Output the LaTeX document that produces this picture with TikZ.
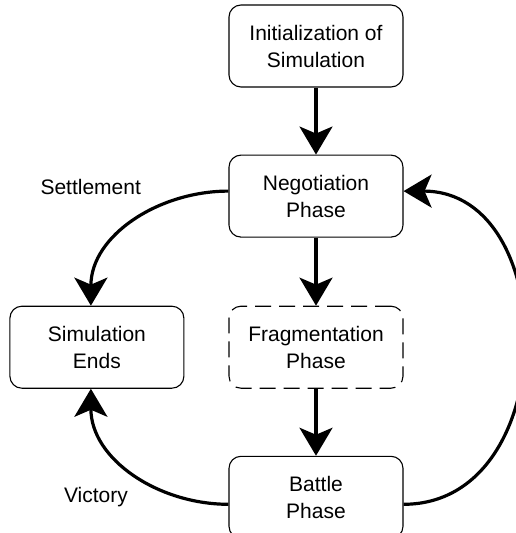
\documentclass[tikz,border=0pt]{standalone}
\usepackage{fontspec}
\setmainfont{Liberation Sans}
\usetikzlibrary{positioning,arrows.meta}

\begin{document}
\begin{tikzpicture}[x=1pt,y=1pt,node distance=67pt,
  box/.style={draw,rounded corners=12pt,align=center,font=\fontsize{21}{27}\selectfont,
              minimum width=174pt,minimum height=82pt,line width=1.1pt},
  lbl/.style={font=\fontsize{21}{27}\selectfont},
  flow/.style={line width=3.2pt,-{Stealth[length=28pt,width=33pt,inset=7pt]}}]
\useasboundingbox (0,0) rectangle (516,-533);
\node[box] (init) at (316,-46) {Initialization of\\Simulation};
\node[box] (neg)  [below=of init] {Negotiation\\Phase};
\node[box,dash pattern=on 16pt off 8pt] (frag) [below=68pt of neg] {Fragmentation\\Phase};
\node[box] (battle) [below=of frag] {Battle\\Phase};
\node[box] (ends)   [left=44pt of frag] {Simulation\\Ends};
\node[lbl] (settle) [left=84pt of neg,yshift=9pt] {Settlement};
\node[lbl] (vict)   [left=97pt of battle] {Victory};

\draw[flow] (init) -- (neg);
\draw[flow] (neg) -- (frag);
\draw[flow] (frag) -- (battle);
\draw[flow] ([yshift=5pt]neg.west) to[out=180,in=90] ([xshift=-6pt]ends.north);
\draw[flow] ([yshift=-7pt]battle.west) to[out=180,in=-90] ([xshift=-6pt]ends.south);
\draw[flow] ([yshift=-7pt]battle.east) to[out=0,in=0,looseness=1.3] ([yshift=5pt]neg.east);
\end{tikzpicture}
\end{document}
